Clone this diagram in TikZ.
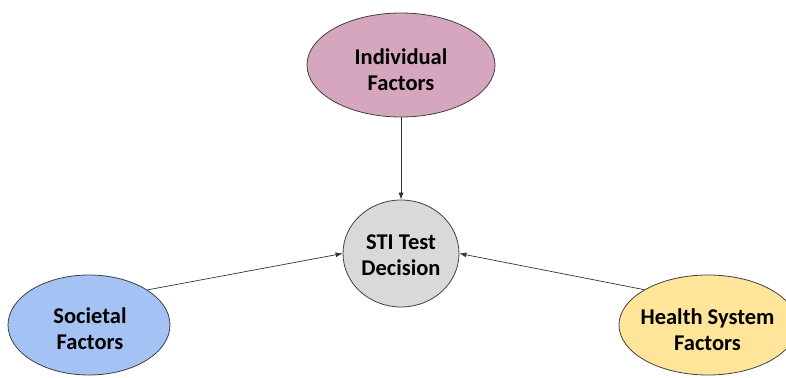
\documentclass[tikz,border=0pt]{standalone}
\usepackage{fontspec}
\setmainfont{Carlito}
\usetikzlibrary{shapes.geometric,arrows.meta}
\definecolor{indiv}{HTML}{D5A6BD}
\definecolor{soc}{HTML}{A4C2F4}
\definecolor{hlth}{HTML}{FFE599}
\definecolor{sti}{HTML}{D9D9D9}
\tikzset{
  factor/.style={ellipse, draw=black!75, line width=0.8pt, inner sep=0pt},
  lbl/.style={align=center, inner sep=0pt, font=\fontsize{22.5}{26}\selectfont\bfseries},
  conn/.style={draw=black!80, line width=0.7pt, -{Latex[length=7pt,width=5pt]}}
}
\begin{document}
\begin{tikzpicture}[x=1pt,y=-1pt]
\useasboundingbox (0,0) rectangle (786,377);
\node[factor, fill=indiv, minimum width=188pt, minimum height=104pt] (ind) at (401,65) {};
\node[lbl] (ind-t) at (401,70) {Individual\\Factors};
\node[factor, fill=sti, minimum width=116pt, minimum height=107pt] (sti) at (401,253.5) {};
\node[lbl] (sti-t) at (401,255) {STI Test\\Decision};
\node[factor, fill=soc, minimum width=162pt, minimum height=100pt] (soc) at (89,325) {};
\node[lbl] (soc-t) at (90,328.5) {Societal\\Factors};
\node[factor, fill=hlth, minimum width=178pt, minimum height=100pt] (hs) at (708,325) {};
\node[lbl] (hs-t) at (707.5,330) {Health System\\Factors};
\draw[conn] (ind) -- (sti);
\draw[conn] (soc.31) -- (sti.west);
\draw[conn] (hs.151) -- (sti.east);
\end{tikzpicture}
\end{document}
